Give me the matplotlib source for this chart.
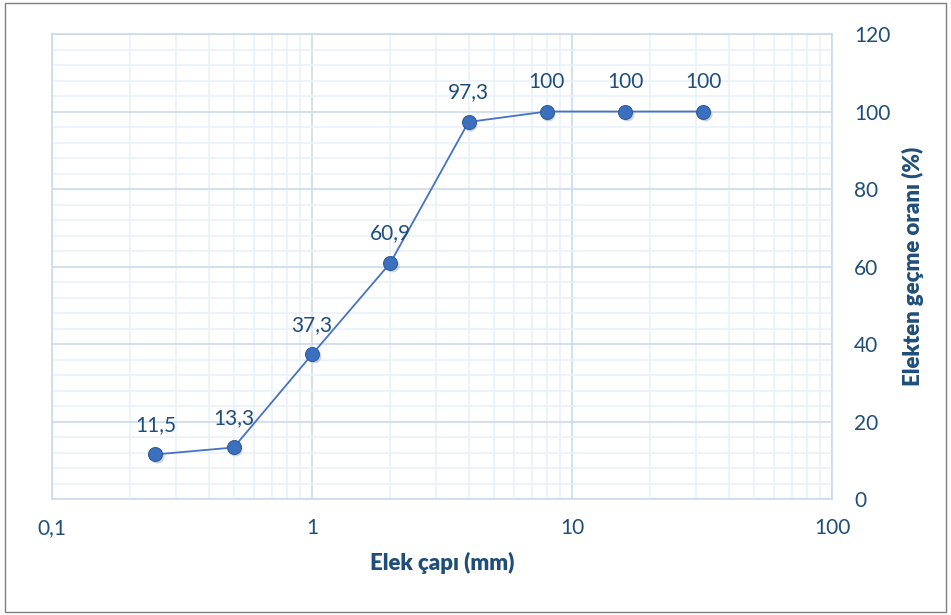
import numpy as np
import matplotlib.pyplot as plt
from matplotlib.patches import Rectangle
from matplotlib.transforms import ScaledTranslation
from matplotlib.ticker import FixedLocator, NullFormatter

sieve_mm = [0.25, 0.5, 1, 2, 4, 8, 16, 32]
passing = [11.5, 13.3, 37.3, 60.9, 97.3, 100, 100, 100]
labels = ["11,5", "13,3", "37,3", "60,9", "97,3", "100", "100", "100"]
xticks = [0.1, 1, 10, 100]
xticklabels = ["0,1", "1", "10", "100"]

txt = "#1F4E79"
plt.rcParams['font.family'] = ['Lato', 'DejaVu Sans']

fig = plt.figure(figsize=(9.51, 6.15), dpi=100)
ax = fig.add_axes([0.0547, 0.1886, 0.8202, 0.7561])

ax.set_xscale('log')
ax.set_xlim(0.1, 100)
ax.set_ylim(0, 120)

ax.set_xticks(xticks)
ax.set_xticklabels(xticklabels)
ax.xaxis.set_minor_locator(FixedLocator([m * 10.0**e for e in range(-1, 2) for m in range(2, 10)]))
ax.xaxis.set_minor_formatter(NullFormatter())
ax.set_yticks(np.arange(0, 121, 20))
ax.yaxis.set_minor_locator(FixedLocator(np.arange(0, 121, 4)))

ax.grid(True, which='major', color='#C9DAEE', lw=1.2)
ax.grid(True, which='minor', color='#EAF1F9', lw=1.2)
ax.set_axisbelow(True)
for s in ax.spines.values():
    s.set_color('#C9DAEE')
    s.set_linewidth(1.2)

ax.yaxis.tick_right()
ax.yaxis.set_label_position('right')
ax.tick_params(which='both', length=0, labelcolor=txt, labelsize=15)
ax.tick_params(axis='x', pad=14)
ax.tick_params(axis='y', pad=16)

# soft shadow under markers
shadow = ax.transData + ScaledTranslation(1.5 / 100, -2 / 100, fig.dpi_scale_trans)
ax.plot(sieve_mm, passing, ls='none', marker='o', ms=10, mfc='#9AA6B5', mec='none',
        alpha=0.5, zorder=2.5, transform=shadow)
ax.plot(sieve_mm, passing, color='#4472C4', lw=1.3, marker='o', ms=10,
        mfc='#3A70BD', mec='#2F5D9E', mew=0.8, zorder=3)
for x, y, l in zip(sieve_mm, passing, labels):
    ax.annotate(l, (x, y), xytext=(0, 14), textcoords='offset points',
                ha='center', va='bottom', color=txt, fontsize=15)

ax.set_xlabel('Elek çapı (mm)', color=txt, fontsize=16, fontweight='heavy', labelpad=10)
ax.set_ylabel('Elekten geçme oranı (%)', color=txt, fontsize=16, fontweight='heavy', labelpad=8)

fig.patches.append(Rectangle((0.005, 0.005), 0.99, 0.99, transform=fig.transFigure,
                             fill=False, edgecolor='#7F7F7F', lw=1))

fig.savefig('out.png', dpi=100)
